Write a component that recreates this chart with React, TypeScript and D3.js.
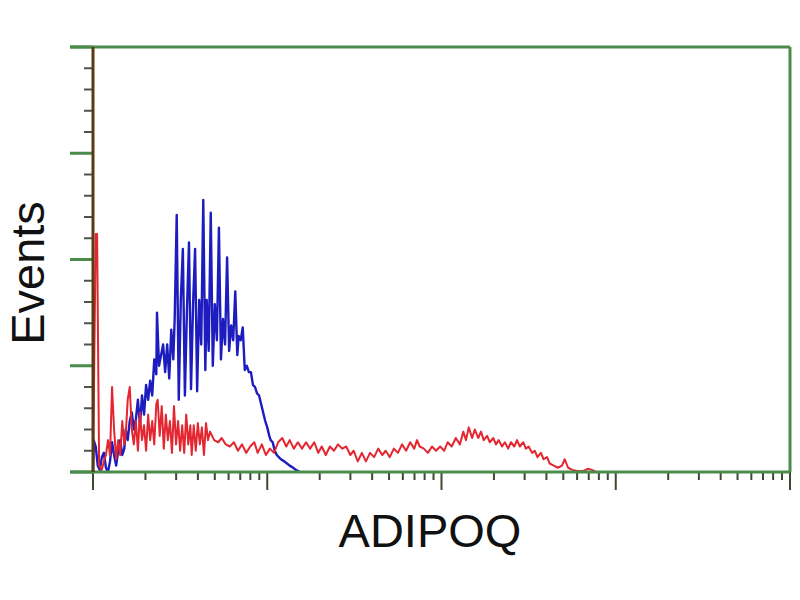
import React, { useEffect, useRef } from "react";
import * as d3 from "d3";

// channel (0-1023, 256 channels per decade) and event count
const blueSeries: [number, number][] = [
  [0, 0], [1, 15], [4, 12], [7, 3], [10, 1], [13, 7], [16, 9], [19, 2], [22, 0], [25, 5],
  [28, 14], [31, 8], [34, 3], [37, 10], [40, 15], [43, 8], [46, 11], [48, 20], [51, 15], [54, 24],
  [57, 28], [60, 20], [63, 25], [66, 34], [69, 22], [72, 36], [75, 27], [78, 41], [81, 34], [84, 43],
  [87, 36], [90, 53], [93, 46], [94, 75], [97, 50], [100, 55], [103, 60], [106, 47], [109, 60], [112, 44],
  [115, 67], [118, 53], [120, 72], [123, 121], [126, 34], [129, 81], [132, 105], [135, 36], [138, 76], [141, 108],
  [144, 39], [147, 79], [150, 105], [153, 38], [156, 81], [159, 60], [162, 128], [165, 48], [167, 81], [170, 57],
  [173, 122], [176, 50], [179, 79], [182, 62], [185, 115], [188, 53], [191, 72], [194, 60], [197, 101], [200, 57],
  [203, 69], [206, 62], [209, 85], [212, 55], [214, 64], [217, 62], [220, 68], [223, 48], [226, 50], [229, 47],
  [232, 47], [235, 41], [238, 40], [241, 37], [244, 36], [247, 32], [250, 28], [253, 24], [256, 21], [259, 17],
  [261, 15], [264, 14], [267, 10], [270, 8], [273, 7], [276, 6], [281, 5], [285, 4], [289, 3], [294, 2],
  [298, 1], [304, 0],
];

const redSeries: [number, number][] = [
  [0, 0], [4, 112], [6, 112], [9, 3], [13, 1], [16, 5], [19, 8], [22, 15], [25, 8], [28, 40],
  [31, 20], [34, 6], [37, 15], [40, 8], [43, 24], [46, 13], [48, 17], [51, 34], [54, 40], [57, 20],
  [60, 13], [63, 24], [66, 10], [69, 28], [72, 15], [75, 22], [78, 10], [81, 27], [84, 15], [87, 24],
  [90, 13], [93, 32], [95, 34], [98, 17], [101, 31], [104, 11], [107, 27], [110, 15], [113, 24], [116, 9],
  [119, 31], [122, 13], [125, 24], [128, 10], [131, 22], [134, 9], [137, 27], [140, 13], [143, 22], [145, 8],
  [148, 22], [151, 10], [154, 23], [157, 13], [160, 21], [163, 8], [166, 23], [169, 15], [172, 19], [178, 15],
  [184, 14], [189, 16], [195, 13], [201, 12], [207, 14], [213, 10], [219, 13], [225, 9], [231, 12], [237, 14],
  [242, 9], [248, 13], [254, 8], [260, 11], [266, 9], [272, 14], [278, 16], [284, 12], [289, 15], [295, 11],
  [301, 14], [307, 11], [313, 14], [319, 11], [325, 14], [331, 9], [336, 12], [342, 8], [348, 12], [354, 10],
  [360, 13], [366, 11], [372, 12], [378, 8], [383, 10], [389, 5], [395, 9], [401, 5], [407, 9], [413, 7],
  [419, 11], [425, 8], [430, 10], [436, 7], [442, 11], [448, 9], [454, 13], [460, 10], [466, 14], [472, 11],
  [476, 15], [480, 12], [486, 11], [492, 9], [498, 12], [504, 10], [510, 12], [516, 10], [521, 14], [527, 12],
  [533, 16], [539, 13], [544, 19], [548, 15], [552, 21], [557, 16], [561, 20], [566, 16], [570, 19], [574, 15],
  [579, 17], [583, 14], [588, 16], [592, 13], [596, 15], [601, 12], [605, 14], [610, 11], [614, 14], [619, 12],
  [623, 15], [627, 12], [632, 14], [636, 11], [640, 12], [645, 9], [649, 10], [653, 7], [658, 9], [662, 6],
  [667, 7], [671, 4], [677, 3], [683, 2], [689, 3], [693, 6], [698, 2], [704, 1], [712, 0.5], [721, 0.5],
  [727, 1.5], [733, 1], [739, 0],
];

const xDomain = [1, 10000];
const yDomain = [0, 200];
const yTickValues = d3.range(0, 201, 10);
const xLabel = "ADIPOQ";
const yLabel = "Events";

const FlowHistogram = () => {
  const ref = useRef<SVGSVGElement>(null);

  useEffect(() => {
    const svg = d3.select(ref.current);
    svg.selectAll("*").remove();

    const left = 93, right = 790, top = 47, bottom = 472;
    const green = "#4b8b4b";

    const xScale = d3.scaleLog().domain(xDomain).range([left, right]);
    const yScale = d3.scaleLinear().domain(yDomain).range([bottom, top]);
    const chX = (ch: number) => xScale(Math.pow(10, ch / 256));

    svg.append("rect").attr("width", 800).attr("height", 600).attr("fill", "white");

    // x ticks (log decades with minor ticks)
    const xTicks = xScale.ticks();
    svg.append("g")
      .selectAll("line")
      .data(xTicks)
      .join("line")
      .attr("x1", (d) => xScale(d))
      .attr("x2", (d) => xScale(d))
      .attr("y1", bottom)
      .attr("y2", (d) => (Math.abs(Math.log10(d) % 1) < 1e-9 ? bottom + 18 : bottom + 8))
      .attr("stroke", "#3b4a33")
      .attr("stroke-width", 2);

    // y ticks
    svg.append("g")
      .selectAll("line")
      .data(yTickValues)
      .join("line")
      .attr("x1", (d) => (d % 50 === 0 ? left - 23 : left - 9))
      .attr("x2", left)
      .attr("y1", (d) => yScale(d))
      .attr("y2", (d) => yScale(d))
      .attr("stroke", (d) => (d % 50 === 0 ? green : "#4a5548"))
      .attr("stroke-width", (d) => (d % 50 === 0 ? 3 : 2));

    // data
    const line = d3.line<[number, number]>()
      .x((d) => chX(d[0]))
      .y((d) => yScale(d[1]));

    svg.append("path")
      .datum(blueSeries)
      .attr("fill", "none")
      .attr("stroke", "#1c1cbf")
      .attr("stroke-width", 2.4)
      .attr("stroke-linejoin", "round")
      .attr("d", line);

    svg.append("path")
      .datum(redSeries)
      .attr("fill", "none")
      .attr("stroke", "#e32630")
      .attr("stroke-width", 2)
      .attr("stroke-linejoin", "round")
      .attr("d", line);

    // frame
    svg.append("line").attr("x1", left - 23).attr("x2", right).attr("y1", top).attr("y2", top)
      .attr("stroke", green).attr("stroke-width", 3);
    svg.append("line").attr("x1", left - 23).attr("x2", right).attr("y1", bottom).attr("y2", bottom)
      .attr("stroke", green).attr("stroke-width", 3);
    svg.append("line").attr("x1", right).attr("x2", right).attr("y1", top).attr("y2", bottom)
      .attr("stroke", green).attr("stroke-width", 3);
    svg.append("line").attr("x1", left).attr("x2", left).attr("y1", top).attr("y2", bottom)
      .attr("stroke", "#5a3a14").attr("stroke-width", 3);

    // labels
    svg.append("text")
      .attr("x", 430)
      .attr("y", 547)
      .attr("text-anchor", "middle")
      .style("font-family", "Liberation Sans, Arial, sans-serif")
      .style("font-size", "47px")
      .attr("fill", "#111")
      .text(xLabel);

    svg.append("text")
      .attr("transform", "translate(44,273) rotate(-90)")
      .attr("text-anchor", "middle")
      .style("font-family", "Liberation Sans, Arial, sans-serif")
      .style("font-size", "47px")
      .attr("fill", "#111")
      .text(yLabel);
  }, []);

  return (
    <svg
      ref={ref}
      width={800}
      height={600}
      style={{ position: "absolute", left: 0, top: 0 }}
    />
  );
};

export default function App() {
  return <FlowHistogram />;
}
